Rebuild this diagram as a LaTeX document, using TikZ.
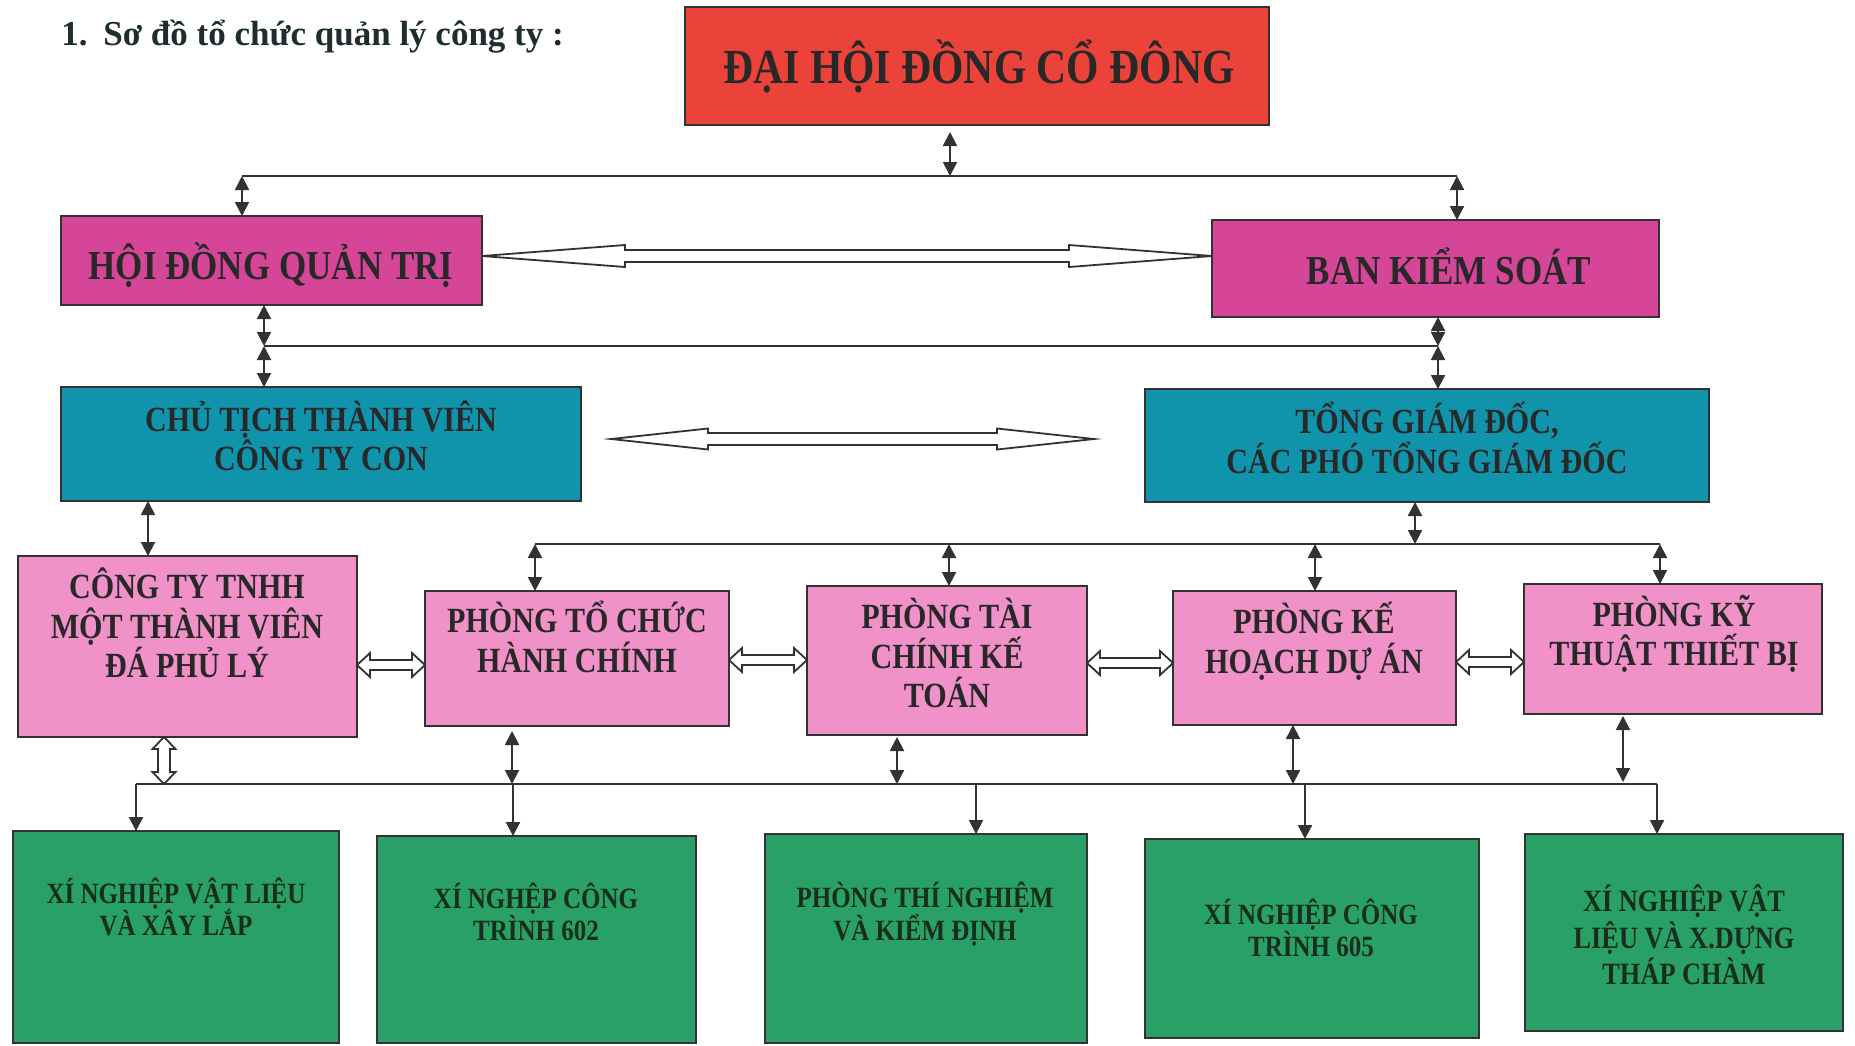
\documentclass[tikz,border=0pt]{standalone}
\usepackage{fontspec}
\setmainfont{Liberation Serif}
\newfontfamily\condf[FakeStretch=0.85]{Liberation Serif}
\usetikzlibrary{arrows.meta,calc}
\definecolor{redbox}{RGB}{235,66,58}
\definecolor{magbox}{RGB}{214,70,152}
\definecolor{tealbox}{RGB}{16,148,172}
\definecolor{pinkbox}{RGB}{240,146,200}
\definecolor{greenbox}{RGB}{40,160,102}
\definecolor{linec}{RGB}{50,50,50}
\definecolor{textc}{RGB}{40,40,40}
\definecolor{gtext}{RGB}{22,45,32}
\definecolor{titlec}{RGB}{30,45,45}
\tikzset{
  boxst/.style={draw=linec, line width=1pt, inner sep=0pt, outer sep=0pt},
  txt/.style={align=center, text=textc, inner sep=0pt, font=\condf\bfseries\fontsize{17.7}{19.7}\selectfont},
  gtxt/.style={align=center, text=gtext, inner sep=0pt, font=\condf\bfseries\fontsize{14.7}{16.3}\selectfont},
  conn/.style={draw=linec, line width=1pt},
  dbl/.style={conn, {Triangle[length=7pt,width=7pt]}-{Triangle[length=7pt,width=7pt]}},
  sgl/.style={conn, -{Triangle[length=7pt,width=7pt]}},
  hollow/.style={draw=linec, line width=0.9pt, fill=white, line join=miter}
}
\newcommand\mkbox[6]{\node[boxst,#6, minimum width={(#4-#2)*0.5pt}, minimum height={(#5-#3)*0.5pt}] (#1) at ({(#2+#4)/2},{(#3+#5)/2}) {};}
\newcommand\hollowH[5]{\draw[hollow] let \p1=(#1), \p2=(#2) in
  (\x1,\y1) -- (\x1+#3,\y1+#4) -- (\x1+#3,\y1+#5) -- (\x2-#3,\y1+#5) -- (\x2-#3,\y1+#4) -- (\x2,\y1)
  -- (\x2-#3,\y1-#4) -- (\x2-#3,\y1-#5) -- (\x1+#3,\y1-#5) -- (\x1+#3,\y1-#4) -- cycle;}
\newcommand\hollowV[5]{\draw[hollow] let \p1=(#1), \p2=(#2) in
  (\x1,\y1) -- (\x1+#4,\y1-#3) -- (\x1+#5,\y1-#3) -- (\x1+#5,\y2+#3) -- (\x1+#4,\y2+#3) -- (\x1,\y2)
  -- (\x1-#4,\y2+#3) -- (\x1-#5,\y2+#3) -- (\x1-#5,\y1-#3) -- (\x1-#4,\y1-#3) -- cycle;}
\begin{document}
\begin{tikzpicture}[x=0.5pt,y=-0.5pt]
\fill[white] (0,0) rectangle (1855,1045);
\useasboundingbox (0,0) rectangle (1855,1045);

% title
\node[anchor=base west, inner sep=0pt, text=titlec, font=\bfseries\fontsize{17.5}{20}\selectfont] (title) at (61,45) {1.\hspace{0.45em}Sơ đồ tổ chức quản lý công ty :};

% boxes
\mkbox{dhdcd}{685}{7}{1269}{125}{fill=redbox}
\mkbox{hdqt}{61}{216}{482}{305}{fill=magbox}
\mkbox{bks}{1212}{220}{1659}{317}{fill=magbox}
\mkbox{cttv}{61}{387}{581}{501}{fill=tealbox}
\mkbox{tgd}{1145}{389}{1709}{502}{fill=tealbox}
\mkbox{cty}{18}{556}{357}{737}{fill=pinkbox}
\mkbox{ptc}{425}{591}{729}{726}{fill=pinkbox}
\mkbox{ptk}{807}{586}{1087}{735}{fill=pinkbox}
\mkbox{pkh}{1173}{591}{1456}{725}{fill=pinkbox}
\mkbox{pkt}{1524}{584}{1822}{714}{fill=pinkbox}
\mkbox{g1}{13}{831}{339}{1043}{fill=greenbox}
\mkbox{g2}{377}{836}{696}{1043}{fill=greenbox}
\mkbox{g3}{765}{834}{1087}{1043}{fill=greenbox}
\mkbox{g4}{1145}{839}{1479}{1038}{fill=greenbox}
\mkbox{g5}{1525}{834}{1843}{1031}{fill=greenbox}

% texts
\node[txt, font=\condf\bfseries\fontsize{24.5}{28}\selectfont] (dhdcd-t) at (979,66) {ĐẠI HỘI ĐỒNG CỔ ĐÔNG};
\node[txt, font=\condf\bfseries\fontsize{20.6}{23}\selectfont] (hdqt-t) at (271,265) {HỘI ĐỒNG QUẢN TRỊ};
\node[txt, font=\condf\bfseries\fontsize{20.6}{23}\selectfont] (bks-t) at (1449,266) {BAN KIỂM SOÁT};
\node[txt] (cttv-t) at (321,436) {CHỦ TỊCH THÀNH VIÊN\\CÔNG TY CON};
\node[txt] (tgd-t) at (1427,438) {TỔNG GIÁM ĐỐC,\\CÁC PHÓ TỔNG GIÁM ĐỐC};
\node[txt] (cty-t) at (187,623) {CÔNG TY TNHH\\MỘT THÀNH VIÊN\\ĐÁ PHỦ LÝ};
\node[txt] (ptc-t) at (577,637) {PHÒNG TỔ CHỨC\\HÀNH CHÍNH};
\node[txt] (ptk-t) at (947,653) {PHÒNG TÀI\\CHÍNH KẾ\\TOÁN};
\node[txt] (pkh-t) at (1314,641) {PHÒNG KẾ\\HOẠCH DỰ ÁN};
\node[txt] (pkt-t) at (1674,634) {PHÒNG KỸ\\THUẬT THIẾT BỊ};
\node[gtxt] (g1-t) at (176,907) {XÍ NGHIỆP VẬT LIỆU\\VÀ XÂY LẮP};
\node[gtxt] (g2-t) at (536,912) {XÍ NGHỆP CÔNG\\TRÌNH 602};
\node[gtxt] (g3-t) at (925,914) {PHÒNG THÍ NGHIỆM\\VÀ KIỂM ĐỊNH};
\node[gtxt] (g4-t) at (1311,928) {XÍ NGHIỆP CÔNG\\TRÌNH 605};
\node[gtxt, font=\condf\bfseries\fontsize{15.5}{18.3}\selectfont] (g5-t) at (1684,935) {XÍ NGHIỆP VẬT\\LIỆU VÀ X.DỰNG\\THÁP CHÀM};

% bus coordinates
\coordinate (b1L) at (242,176); \coordinate (b1M) at (950,176); \coordinate (b1R) at (1457,176);
\coordinate (b2L) at (264,346); \coordinate (b2R) at (1438,346);
\coordinate (cA) at (148,0);
\coordinate (b3L) at (535,544); \coordinate (b3a) at (949,544); \coordinate (b3b) at (1315,544);
\coordinate (b3T) at (1415,544); \coordinate (b3R) at (1660,544);
\coordinate (b4L) at (136,784); \coordinate (b4R) at (1657,784); \coordinate (b4h) at (164,784);
\coordinate (b4a) at (512,784); \coordinate (b4b) at (897,784); \coordinate (b4c) at (1293,784); \coordinate (b4d) at (1623,784);
\coordinate (b4e) at (513,784); \coordinate (b4f) at (976,784); \coordinate (b4g) at (1305,784);
\coordinate (h2a) at (611,439); \coordinate (h2b) at (1094,439);

% level 1
\draw[conn] (b1L) -- (b1R);
\draw[dbl] ([yshift=-3.5pt]b1M |- dhdcd.south) -- (b1M);
\draw[dbl] (b1L) -- (b1L |- hdqt.north);
\draw[dbl] (b1R) -- (b1R |- bks.north);
\hollowH{hdqt.east |- 0,256}{bks.west |- 0,256}{71.5pt}{5.5pt}{3pt}

% level 2
\draw[conn] (b2L) -- (b2R);
\draw[dbl] (b2L |- hdqt.south) -- (b2L);
\draw[dbl] (b2L) -- (b2L |- cttv.north);
\draw[dbl] (b2R |- bks.south) -- (b2R);
\draw[dbl] (b2R) -- (b2R |- tgd.north);
\hollowH{h2a}{h2b}{48.5pt}{5.25pt}{3pt}

% level 3
\draw[dbl] (cA |- cttv.south) -- (cA |- cty.north);
\draw[conn] (b3L) -- (b3R);
\draw[dbl] (b3T |- tgd.south) -- (b3T);
\draw[dbl] (b3L) -- (b3L |- ptc.north);
\draw[dbl] (b3a) -- (b3a |- ptk.north);
\draw[dbl] (b3b) -- (b3b |- pkh.north);
\draw[dbl] (b3R) -- (b3R |- pkt.north);
\hollowH{cty.east |- 0,665}{ptc.west |- 0,665}{6.5pt}{6pt}{2.5pt}
\hollowH{ptc.east |- 0,660}{ptk.west |- 0,660}{6.5pt}{6pt}{2.5pt}
\hollowH{ptk.east |- 0,663}{pkh.west |- 0,663}{6.5pt}{6pt}{2.5pt}
\hollowH{pkh.east |- 0,662}{pkt.west |- 0,662}{6.5pt}{6pt}{2.5pt}

% level 4
\draw[conn] (b4L) -- (b4R);
\hollowV{b4h |- cty.south}{b4h}{6pt}{5.75pt}{3pt}
\draw[dbl] ([yshift=-2.5pt]b4a |- ptc.south) -- (b4a);
\draw[dbl] ([yshift=-1pt]b4b |- ptk.south) -- (b4b);
\draw[dbl] (b4c |- pkh.south) -- (b4c);
\draw[dbl] ([yshift=-1pt]b4d |- pkt.south) -- ([yshift=1pt]b4d);
\draw[sgl] (b4L) -- (b4L |- g1.north);
\draw[sgl] (b4e) -- (b4e |- g2.north);
\draw[sgl] (b4f) -- (b4f |- g3.north);
\draw[sgl] (b4g) -- (b4g |- g4.north);
\draw[sgl] (b4R) -- (b4R |- g5.north);
\end{tikzpicture}
\end{document}
